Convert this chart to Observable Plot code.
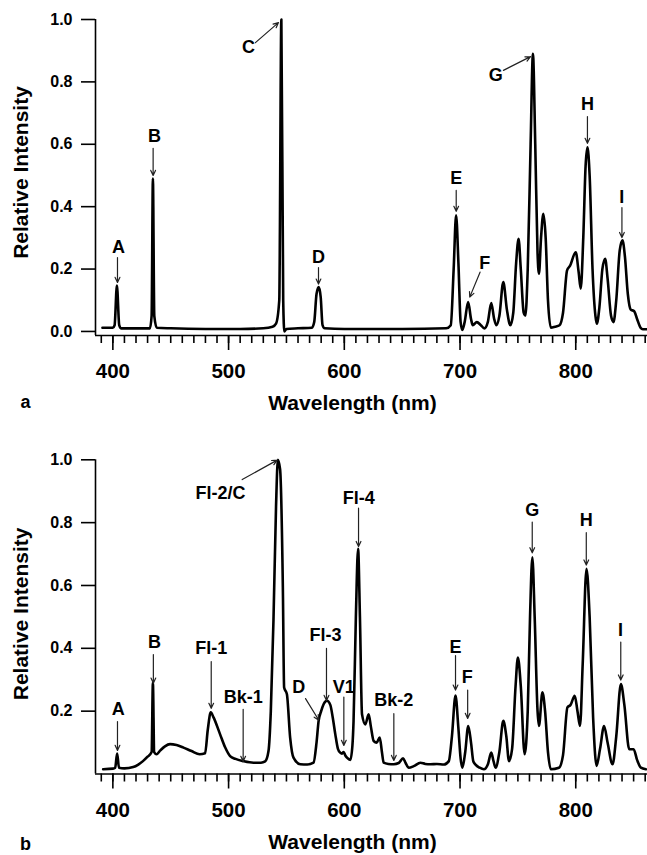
<!DOCTYPE html>
<html><head><meta charset="utf-8">
<script src="https://cdn.jsdelivr.net/npm/d3@7"></script>
<script src="https://cdn.jsdelivr.net/npm/@observablehq/plot@0.6"></script>
<style>
body{margin:0;background:#fff;}
#chart{width:647px;height:855px;position:relative;overflow:hidden;background:#fff;}
#chart svg{display:block;}
</style></head><body><div id="chart"></div><script>
// ---------- shared axis data ----------
const xDomain = [385, 862];
const majorTicks = [400, 500, 600, 700, 800];
const minorTicks = [390,400,410,420,430,440,450,460,470,480,490,500,510,520,530,540,550,560,570,580,590,600,610,620,630,640,650,660,670,680,690,700,710,720,730,740,750,760,770,780,790,800,810,820,830,840,850,860];
const yTicksA = [0, 0.2, 0.4, 0.6, 0.8, 1.0];
const yTicksB = [0.2, 0.4, 0.6, 0.8, 1.0];
const xTitle = "Wavelength (nm)";
const yTitle = "Relative Intensity";
const panelLetters = ["a", "b"];

// ---------- panel a spectrum ----------
const wavelengthA = [391,400,401.5,403.5,405.5,407,420,432,433.5,434.6,435.8,438,450,480,510,530,538,541,543.8,545.6,547.2,548.2,550,560,572,574,576,577.9,579.6,581.2,583,600,650,688,692,694.5,696.6,698.6,700.5,702,704,707,709.5,711,714.5,718,721,724,727,729.5,731.5,734,737.4,740.5,743.5,746,748.5,750.6,752.5,755,756.5,758.5,761,763,765,767,768.2,770,772,774,776,778.5,782,786,789,792.5,795,800,802.5,804.3,806.5,808.5,810.1,812,814.5,817,818.2,820.5,823,825.4,827.5,830.5,832.6,835,838,840.4,842.5,845,847.5,850.5,853,856,858,861.5];
const intensityA = [0.012,0.012,0.02,0.147,0.02,0.01,0.01,0.01,0.05,0.49,0.05,0.012,0.01,0.008,0.008,0.01,0.015,0.025,0.1,1.0,0.1,0.0,0.008,0.01,0.012,0.03,0.12,0.142,0.11,0.02,0.01,0.008,0.008,0.01,0.02,0.2,0.372,0.22,0.03,0.005,0.03,0.094,0.04,0.02,0.03,0.02,0.01,0.03,0.091,0.04,0.02,0.05,0.158,0.07,0.02,0.06,0.22,0.297,0.2,0.06,0.051,0.2,0.6,0.89,0.6,0.25,0.185,0.3,0.377,0.3,0.1,0.012,0.015,0.02,0.06,0.196,0.21,0.254,0.19,0.137,0.3,0.53,0.59,0.5,0.2,0.05,0.025,0.08,0.2,0.233,0.17,0.05,0.03,0.1,0.26,0.292,0.24,0.12,0.07,0.065,0.04,0.012,0.007,0.007];

// ---------- panel a annotations ----------
const labelsA = ["A","B","C","D","E","F","G","H","I"];
const labelXA = [404.8,436,517.3,577.7,696.7,721.4,730.8,810.1,839.7];
const labelYA = [0.269,0.625,0.91,0.237,0.49,0.218,0.82,0.728,0.429];
const arrowX1A = [404,434.8,523.2,577.7,696.7,717.3,737.5,810.1,839.9];
const arrowY1A = [0.237,0.587,0.926,0.205,0.452,0.19,0.837,0.689,0.397];
const arrowX2A = [404,434.8,543.1,577.7,696.7,708.4,760.9,810.1,839.9];
const arrowY2A = [0.157,0.5,0.99,0.152,0.385,0.11,0.881,0.603,0.301];

// ---------- panel b spectrum ----------
const wavelengthB = [391.6,400,402,403.7,405.3,410,417.6,422,426,430,433.5,434.6,435.7,437.8,441,445,449.4,455,461,468,475,479.7,482,484.6,487,492.6,497,501.3,506,512.8,521.5,528,531.6,534.5,536.5,538.8,541,542.6,544.5,546.9,548,550.4,553.2,556.1,562,568,573.4,576,577.8,580,582.1,585,587.9,590,592.2,594.5,596.5,598,599.4,601,602.3,605.2,607,608,610,611.9,613.5,615.3,618.2,621,623,625.4,628,630.6,632.5,634,638,642.7,647,650.8,653,655.7,660,665.8,670,674.5,680,686,690.3,693,696.1,698.5,700.5,702,704.5,707.1,709.5,711.5,713.4,717,720.6,724,727,729,730.7,734,737.4,740,742.3,745,748,750,752.5,755.8,758.5,760.5,762.5,764.5,767,768.2,771.2,773.5,776,778.4,785.5,789,792.8,795.5,799.1,801.5,803.7,806,809.3,812,815,818,821,824.5,827.5,831.8,835,839,842,846.2,850,853,856.3,860.6];
const intensityB = [0.015,0.017,0.02,0.065,0.02,0.018,0.022,0.03,0.041,0.055,0.07,0.29,0.07,0.063,0.075,0.088,0.095,0.092,0.084,0.073,0.063,0.066,0.14,0.196,0.18,0.127,0.085,0.057,0.048,0.041,0.036,0.036,0.04,0.073,0.2,0.49,0.85,1.0,0.97,0.594,0.275,0.254,0.116,0.052,0.031,0.03,0.036,0.1,0.169,0.2,0.222,0.233,0.22,0.18,0.127,0.08,0.068,0.065,0.07,0.058,0.052,0.045,0.09,0.169,0.5,0.717,0.5,0.19,0.158,0.19,0.15,0.105,0.1,0.116,0.07,0.036,0.032,0.031,0.035,0.05,0.035,0.02,0.025,0.036,0.032,0.031,0.032,0.03,0.041,0.12,0.25,0.15,0.05,0.02,0.07,0.153,0.1,0.04,0.03,0.02,0.015,0.03,0.068,0.04,0.02,0.07,0.169,0.12,0.041,0.08,0.28,0.371,0.28,0.063,0.2,0.5,0.69,0.5,0.2,0.153,0.26,0.2,0.07,0.015,0.02,0.06,0.212,0.22,0.249,0.2,0.153,0.35,0.653,0.5,0.18,0.026,0.08,0.153,0.1,0.031,0.12,0.286,0.22,0.079,0.079,0.045,0.02,0.015];

// ---------- panel b annotations ----------
const labelsB = ["A","B","Fl-1","Bk-1","Fl-2/C","D","Fl-3","V1","Fl-4","Bk-2","E","F","G","H","I"];
const labelXB = [404.7,436,485,512.6,493,560.7,583.7,599.6,612.5,642.8,696.1,706.2,762.4,809.1,838.7];
const labelYB = [0.207,0.418,0.4,0.243,0.894,0.277,0.442,0.277,0.878,0.234,0.404,0.308,0.841,0.809,0.458];
const arrowX1B = [404,435,485,512.6,511.8,566.5,584.6,599.6,612.3,642.8,696.1,706.6,762.4,809.1,838.9];
const arrowY1B = [0.167,0.38,0.358,0.206,0.937,0.24,0.4,0.245,0.846,0.192,0.377,0.267,0.802,0.768,0.42];
const arrowX2B = [404,435,485,512.6,542,578,584.6,599.6,612.3,642.8,696.1,706.6,762.4,809.1,838.9];
const arrowY2B = [0.075,0.289,0.209,0.04,0.999,0.171,0.234,0.091,0.724,0.043,0.267,0.177,0.704,0.665,0.299];

const FONT = "'Liberation Sans', Arial, Helvetica, sans-serif";
const fmt = d3.format(".1f");

function panel(o) {
  const spectrum = o.wl.map((x, i) => ({x, y: o.inten[i]}));
  const ann = o.labels.map((t, i) => ({t, x: o.lx[i], y: o.ly[i], x1: o.ax1[i], y1: o.ay1[i], x2: o.ax2[i], y2: o.ay2[i]}));
  return Plot.plot({
    width: 647, height: o.height,
    marginLeft: 95, marginRight: 0, marginTop: o.marginTop, marginBottom: o.marginBottom,
    style: {fontFamily: FONT, fontWeight: "bold", color: "#000", background: "#fff", overflow: "visible"},
    x: {domain: xDomain},
    y: {domain: o.yDomain},
    marks: [
      // tick lines
      Plot.axisY(o.yTicks, {tickSize: 14, text: null, label: null, strokeWidth: 1.6}),
      Plot.axisX(minorTicks, {tickSize: 8, text: null, label: null, strokeWidth: 1.6}),
      Plot.axisX(majorTicks, {tickSize: 15, text: null, label: null, strokeWidth: 1.6}),
      // tick labels
      Plot.text(o.yTicks, {y: d => d, text: d => fmt(d), frameAnchor: "left", textAnchor: "end", lineAnchor: "middle", dx: -23, fontSize: 16, fontWeight: "bold"}),
      Plot.text(majorTicks, {x: d => d, text: d => String(d), frameAnchor: "bottom", textAnchor: "middle", lineAnchor: "middle", dy: 36, fontSize: 20.5, fontWeight: "bold"}),
      // axis lines
      Plot.ruleX([xDomain[0]], {strokeWidth: 1.6}),
      Plot.ruleY([o.yDomain[0]], {strokeWidth: 1.6}),
      // spectrum
      Plot.line(spectrum, {x: "x", y: "y", strokeWidth: 2.6, curve: "monotone-x", stroke: "#000"}),
      // annotations
      Plot.arrow(ann, {x1: "x1", y1: "y1", x2: "x2", y2: "y2", stroke: "#222", strokeWidth: 1.2, headLength: 7, headAngle: 50}),
      Plot.text(ann, {x: "x", y: "y", text: "t", fontSize: 18, fontWeight: "bold", fill: "#000"}),
      // titles
      Plot.text([yTitle], {text: d => d, frameAnchor: "left", textAnchor: "middle", lineAnchor: "middle", rotate: -90, dx: -74.5, dy: o.yTitleDy, fontSize: 21, fontWeight: "bold"}),
      Plot.text([xTitle], {text: d => d, frameAnchor: "bottom", textAnchor: "middle", lineAnchor: "middle", dx: -19, dy: 68, fontSize: 21, fontWeight: "bold"}),
      Plot.text([o.letter], {text: d => d, frameAnchor: "bottom-left", textAnchor: "middle", lineAnchor: "middle", dx: -70, dy: o.letterDy, fontSize: 18, fontWeight: "bold"})
    ]
  });
}

const root = document.getElementById("chart");
root.appendChild(panel({
  wl: wavelengthA, inten: intensityA,
  labels: labelsA, lx: labelXA, ly: labelYA, ax1: arrowX1A, ay1: arrowY1A, ax2: arrowX2A, ay2: arrowY2A,
  yDomain: [-0.013, 1], yTicks: yTicksA, height: 420, marginTop: 19, marginBottom: 85,
  yTitleDy: -5, letter: panelLetters[0], letterDy: 67
}));
root.appendChild(panel({
  wl: wavelengthB, inten: intensityB,
  labels: labelsB, lx: labelXB, ly: labelYB, ax1: arrowX1B, ay1: arrowY1B, ax2: arrowX2B, ay2: arrowY2B,
  yDomain: [0, 1], yTicks: yTicksB, height: 435, marginTop: 39.3, marginBottom: 81.5,
  yTitleDy: -3, letter: panelLetters[1], letterDy: 70
}));
</script></body></html>
